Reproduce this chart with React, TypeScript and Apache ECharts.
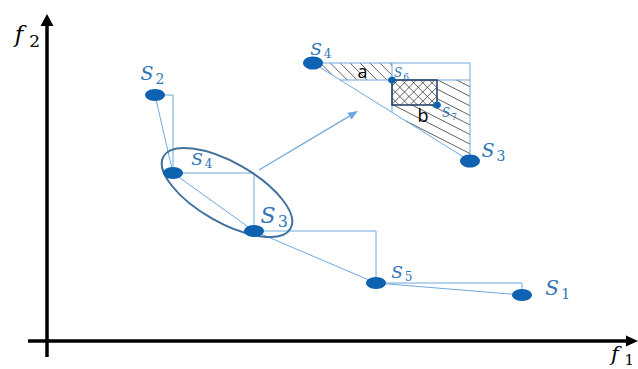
import React, { useEffect, useRef } from "react";
import * as echarts from "echarts";

// Main front points (objective space f1, f2)
const mainNames = ["2", "4", "3", "5", "1"];
const mainF1 = [10.8, 12.6, 20.7, 32.9, 47.5];
const mainF2 = [24.6, 16.8, 11.0, 5.8, 4.6];

// Zoomed inset points: S4, S6, S7, S3
const insetNames = ["4", "6", "7", "3"];
const insetF1 = [26.6, 34.5, 39.0, 42.3];
const insetF2 = [27.8, 26.1, 23.6, 18.0];

const LIGHT = "#6FA8DC";
const DOT = "#0F62B0";
const LABEL = "#2E75B6";
const DARK = "#1F3864";
const HATCH = "#3a3a3a";
const SERIF = "DejaVu Serif";

type P = number[];

function hatch(poly: P[], angleDeg: number, spacing: number, z = 2) {
  const a = (angleDeg * Math.PI) / 180;
  const d = [Math.cos(a), Math.sin(a)];
  const n = [-Math.sin(a), Math.cos(a)];
  const proj = poly.map((p) => p[0] * n[0] + p[1] * n[1]);
  const lo = Math.min(...proj);
  const hi = Math.max(...proj);
  const out: any[] = [];
  for (let t = Math.ceil(lo / spacing) * spacing; t <= hi; t += spacing) {
    const pts: P[] = [];
    for (let i = 0; i < poly.length; i++) {
      const p = poly[i];
      const q = poly[(i + 1) % poly.length];
      const sp = p[0] * n[0] + p[1] * n[1] - t;
      const sq = q[0] * n[0] + q[1] * n[1] - t;
      if ((sp <= 0 && sq > 0) || (sp > 0 && sq <= 0)) {
        const r = sp / (sp - sq);
        pts.push([p[0] + (q[0] - p[0]) * r, p[1] + (q[1] - p[1]) * r]);
      }
    }
    if (pts.length >= 2) {
      pts.sort((u, v) => u[0] * d[0] + u[1] * d[1] - (v[0] * d[0] + v[1] * d[1]));
      const s = pts[0];
      const e = pts[pts.length - 1];
      out.push({
        type: "line",
        z,
        silent: true,
        shape: { x1: s[0], y1: s[1], x2: e[0], y2: e[1] },
        style: { stroke: HATCH, lineWidth: 0.8 },
      });
    }
  }
  return out;
}

function sLabel(cx: number, cy: number, size: number, sub: string, color = LABEL, letter = "S") {
  return [
    {
      type: "text",
      z: 20,
      x: cx,
      y: cy,
      style: {
        text: letter,
        fontStyle: "italic",
        fontSize: size,
        fontFamily: SERIF,
        fill: color,
        align: "center",
        verticalAlign: "middle",
      },
    },
    {
      type: "text",
      z: 20,
      x: cx + size * 0.68,
      y: cy + size * 0.3,
      style: {
        text: sub,
        fontStyle: "normal",
        fontSize: Math.round(size * 0.72),
        fontFamily: SERIF,
        fill: color,
        align: "center",
        verticalAlign: "middle",
      },
    },
  ];
}

export default function App() {
  const ref = useRef<HTMLDivElement>(null);
  useEffect(() => {
    const chart = echarts.init(ref.current!, null, { renderer: "svg" });
    const main = mainF1.map((x, i) => [x, mainF2[i]]);
    const inset = insetF1.map((x, i) => [x, insetF2[i]]);
    const dotStyle = { color: DOT, opacity: 1 };
    chart.setOption({
      animation: false,
      grid: { left: 47, top: 0, right: 0, bottom: 28 },
      xAxis: { type: "value", min: 0, max: 59.1, show: false },
      yAxis: { type: "value", min: 0, max: 34.1, show: false },
      series: [
        { type: "line", data: main, step: "end", symbol: "none", silent: true, lineStyle: { color: LIGHT, width: 1 }, z: 3 },
        { type: "line", data: main, symbol: "none", silent: true, lineStyle: { color: LIGHT, width: 1 }, z: 3 },
        { type: "scatter", data: main, symbolSize: [20, 12], itemStyle: dotStyle, z: 6 },
        { type: "scatter", data: [inset[0], inset[3]], symbolSize: [20, 13], itemStyle: dotStyle, z: 6 },
        { type: "scatter", data: [inset[1], inset[2]], symbolSize: [8, 7], itemStyle: dotStyle, z: 6 },
      ],
    });

    const px = (p: P): P => chart.convertToPixel({ gridIndex: 0 }, p) as P;
    const O = px([0, 0]);
    const mp = main.map(px);
    const [P4, P6, P7, P3] = inset.map(px);
    const diagX = (y: number) => P4[0] + ((y - P4[1]) * (P3[0] - P4[0])) / (P3[1] - P4[1]);
    const diagY = (x: number) => P4[1] + ((x - P4[0]) * (P3[1] - P4[1])) / (P3[0] - P4[0]);

    const els: any[] = [];
    // axes
    const axisStyle = { stroke: "#000", lineWidth: 3.5 };
    els.push({ type: "line", shape: { x1: O[0], y1: O[1] + 16, x2: O[0], y2: 24 }, style: axisStyle });
    els.push({ type: "polygon", shape: { points: [[O[0], 14], [O[0] - 6.5, 26], [O[0] + 6.5, 26]] }, style: { fill: "#000" } });
    els.push({ type: "line", shape: { x1: 28, y1: O[1], x2: 628, y2: O[1] }, style: axisStyle });
    els.push({ type: "polygon", shape: { points: [[638, O[1]], [626, O[1] - 5.5], [626, O[1] + 5.5]] }, style: { fill: "#000" } });
    els.push(...sLabel(19, 34, 23, "2", "#000", "f"));
    els.push(...sLabel(615, 354, 21, "1", "#000", "f"));

    // ellipse around S4, S3
    els.push({
      type: "ellipse",
      x: 227,
      y: 192.5,
      rotation: -0.515,
      shape: { cx: 0, cy: 0, rx: 73, ry: 30 },
      style: { fill: "none", stroke: "#41719C", lineWidth: 2 },
      z: 4,
    });
    // arrow to inset
    const a1 = [259, 170];
    const a2 = [358, 111];
    const ang = Math.atan2(a2[1] - a1[1], a2[0] - a1[0]);
    const L = 10, W = 4;
    const base = [a2[0] - L * Math.cos(ang), a2[1] - L * Math.sin(ang)];
    els.push({ type: "line", shape: { x1: a1[0], y1: a1[1], x2: base[0], y2: base[1] }, style: { stroke: LIGHT, lineWidth: 1.2 } });
    els.push({
      type: "polygon",
      shape: {
        points: [
          a2,
          [base[0] + W * Math.sin(ang), base[1] - W * Math.cos(ang)],
          [base[0] - W * Math.sin(ang), base[1] + W * Math.cos(ang)],
        ],
      },
      style: { fill: LIGHT },
    });

    // inset hatching
    const regionA = [P4, [P6[0], P4[1]], [P6[0], P6[1]], [diagX(P6[1]), P6[1]]];
    const regionB1 = [[P7[0], P6[1]], [P3[0], P6[1]], [P3[0], P7[1]], [P7[0], P7[1]]];
    const regionB2 = [[P6[0], P7[1]], [P3[0], P7[1]], P3, [P6[0], diagY(P6[0])]];
    const rect = [[P6[0], P6[1]], [P7[0], P6[1]], [P7[0], P7[1]], [P6[0], P7[1]]];
    els.push(...hatch(regionA, 45, 7));
    els.push(...hatch(regionB1, 27, 8.5));
    els.push(...hatch(regionB2, 27, 8.5));
    els.push(...hatch(rect, 45, 6.5));
    els.push(...hatch(rect, -45, 6.5));

    // inset lines
    const ls = { stroke: LIGHT, lineWidth: 1 };
    els.push({ type: "polyline", z: 3, shape: { points: [P4, [P3[0], P4[1]], P3] }, style: ls });
    els.push({ type: "line", z: 3, shape: { x1: P4[0], y1: P4[1], x2: P3[0], y2: P3[1] }, style: ls });
    els.push({ type: "line", z: 3, shape: { x1: diagX(P6[1]), y1: P6[1], x2: P3[0], y2: P6[1] }, style: ls });
    els.push({ type: "line", z: 3, shape: { x1: P6[0], y1: P4[1], x2: P6[0], y2: diagY(P6[0]) }, style: ls });
    els.push({
      type: "rect",
      z: 4,
      shape: { x: P6[0], y: P6[1], width: P7[0] - P6[0], height: P7[1] - P6[1] },
      style: { fill: "none", stroke: DARK, lineWidth: 1.5 },
    });

    // labels for main points (offsets from points)
    const mainLabelOff = [[-8, -22, 19], [24, -14, 17], [14, -16, 22], [21, -11, 17], [30, -7, 20]];
    mp.forEach((p, i) => {
      const o = mainLabelOff[i];
      els.push(...sLabel(p[0] + o[0], p[1] + o[1], o[2], mainNames[i]));
    });
    const insetLabelOff = [[3, -14, 17], [6, -7, 12], [9, 8, 12], [18, -11, 19]];
    [P4, P6, P7, P3].forEach((p, i) => {
      const o = insetLabelOff[i];
      els.push(...sLabel(p[0] + o[0], p[1] + o[1], o[2], insetNames[i]));
    });
    // region labels
    els.push({ type: "text", z: 20, x: 362.5, y: 71, style: { text: "a", fontSize: 18, fontFamily: "Open Sans", fill: "#000", align: "center", verticalAlign: "middle" } });
    els.push({ type: "text", z: 20, x: 423, y: 115, style: { text: "b", fontSize: 18, fontFamily: "Open Sans", fill: "#000", align: "center", verticalAlign: "middle" } });

    chart.setOption({ graphic: { elements: els } });
    return () => chart.dispose();
  }, []);
  return <div ref={ref} style={{ position: "fixed", left: 0, top: 0, width: 638, height: 369, background: "#fff" }} />;
}
